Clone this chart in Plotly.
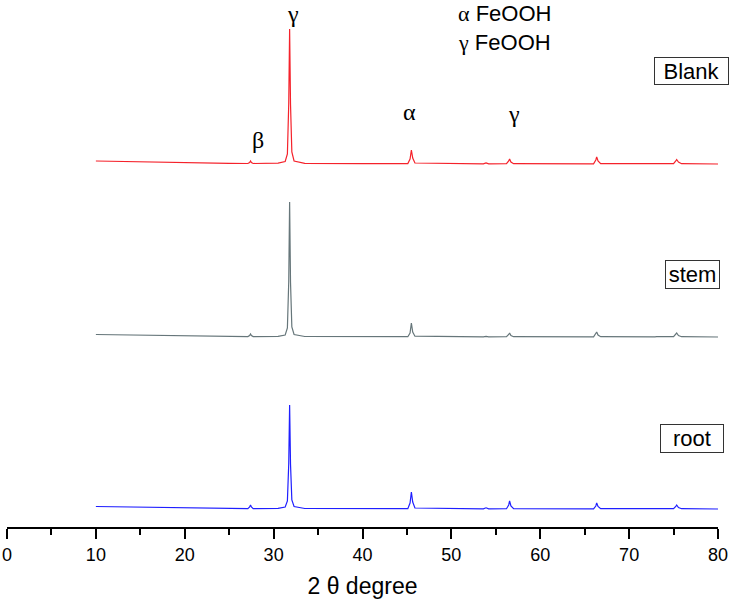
import plotly.graph_objects as go

# shared 2-theta grid (degrees) where the patterns change shape
two_theta = [10, 15, 20, 25, 27.1, 27.3, 27.4, 27.5, 27.7, 30.5, 31.3, 31.55, 31.7, 31.8, 31.9,
             32.05, 32.3, 33.5, 40, 45.1, 45.35, 45.5, 45.65, 45.9, 53.6, 53.9, 54.2, 56.2,
             56.45, 56.55, 56.7, 57.0, 66.0, 66.25, 66.35, 66.5, 66.8, 72.9, 73.1, 75.0, 75.25,
             75.35, 75.55, 75.9, 80]

# intensities (arbitrary units)
blank = [3, 2, 1.2, 0.6, 0.5, 1.5, 3, 1.5, 0.5, 0.8, 2.5, 10, 60, 135, 60,
         12, 3, 0.6, 0.3, 0.4, 5, 14, 6, 1, 0.2, 1, 0.2, 0.3,
         3, 5, 2, 0.3, 0.2, 4, 7, 3, 0.3, 0.2, 0.6, 0.3, 3,
         4.5, 2, 0.3, 0]
stem = [2.5, 1.8, 1.0, 0.5, 0.4, 1.5, 3, 1.5, 0.4, 0.6, 2.0, 9, 55, 135, 55,
        10, 2.5, 0.5, 0.3, 0.3, 4, 14, 5, 0.8, 0.2, 0.6, 0.2, 0.3,
        2.5, 4, 1.5, 0.3, 0.2, 3, 5, 2, 0.3, 0.2, 0.4, 0.3, 2.5,
        4, 1.5, 0.3, 0]
root = [2.5, 1.8, 1.0, 0.5, 0.4, 2, 4, 2, 0.4, 0.6, 2.0, 8, 45, 104, 45,
        9, 2.5, 0.5, 0.3, 0.4, 6, 17, 7, 1, 0.2, 1.2, 0.2, 0.3,
        4, 8, 3, 0.3, 0.2, 3, 6, 2.5, 0.3, 0.2, 0.5, 0.3, 2.5,
        4, 1.5, 0.3, 0]

sample_names = ["Blank", "stem", "root"]
offsets = [363, 190, 18]
colors = ["#f5222b", "#66767a", "#1f1fff"]

fig = go.Figure()
for name, vals, off, col in zip(sample_names, [blank, stem, root], offsets, colors):
    fig.add_trace(go.Scatter(x=two_theta, y=[v + off for v in vals], mode="lines",
                             line=dict(color=col, width=1.2), name=name, cliponaxis=False))

serif = "<span style=\"font-family:'Liberation Serif'\">%s</span>"
greek = [("γ", 32.2, 513), ("β", 28.2, 387), ("α", 45.3, 415), ("γ", 57.0, 413)]
for g, gx, gy in greek:
    fig.add_annotation(x=gx, y=gy, text=serif % g, showarrow=False,
                       font=dict(size=24, color="black"))

fig.add_annotation(x=50.5, y=514, xanchor="left", text=(serif % "α") + " FeOOH",
                   showarrow=False, font=dict(size=22, color="black"))
fig.add_annotation(x=50.5, y=485, xanchor="left", text=(serif % "γ") + " FeOOH",
                   showarrow=False, font=dict(size=22, color="black"))

boxes = [("Blank", 77.0, 456, 73, 26), ("stem", 77.1, 252.5, 53, 27), ("root", 77.1, 88.5, 62, 27)]
for txt, bx, by, w, h in boxes:
    fig.add_annotation(x=bx, y=by, text=txt, showarrow=False, width=w, height=h,
                       bordercolor="#333333", borderwidth=1, borderpad=0,
                       font=dict(size=22, color="black"))

fig.update_layout(
    width=732, height=604,
    margin=dict(l=7, r=14, t=10, b=77, autoexpand=False),
    plot_bgcolor="white", paper_bgcolor="white",
    showlegend=False,
    font=dict(family="Liberation Sans, Arial", color="black"),
)
fig.update_xaxes(range=[0, 80], tickvals=[0, 10, 20, 30, 40, 50, 60, 70, 80],
                 ticks="outside", ticklen=10, tickwidth=2, tickcolor="black",
                 minor=dict(tickvals=[5, 15, 25, 35, 45, 55, 65, 75], ticks="outside",
                            ticklen=6, tickwidth=2, tickcolor="black"),
                 showline=True, linecolor="black", linewidth=2, showgrid=False, zeroline=False,
                 tickfont=dict(size=18), automargin=False,
                 title=dict(text="2 θ degree", font=dict(size=23), standoff=14))
fig.update_yaxes(range=[0, 517], visible=False, showgrid=False)

# drop the default 8px page margin so the figure fills the window
fig.write_html("out.html", config={"displayModeBar": False},
               post_script="document.body.style.margin='0px';")
